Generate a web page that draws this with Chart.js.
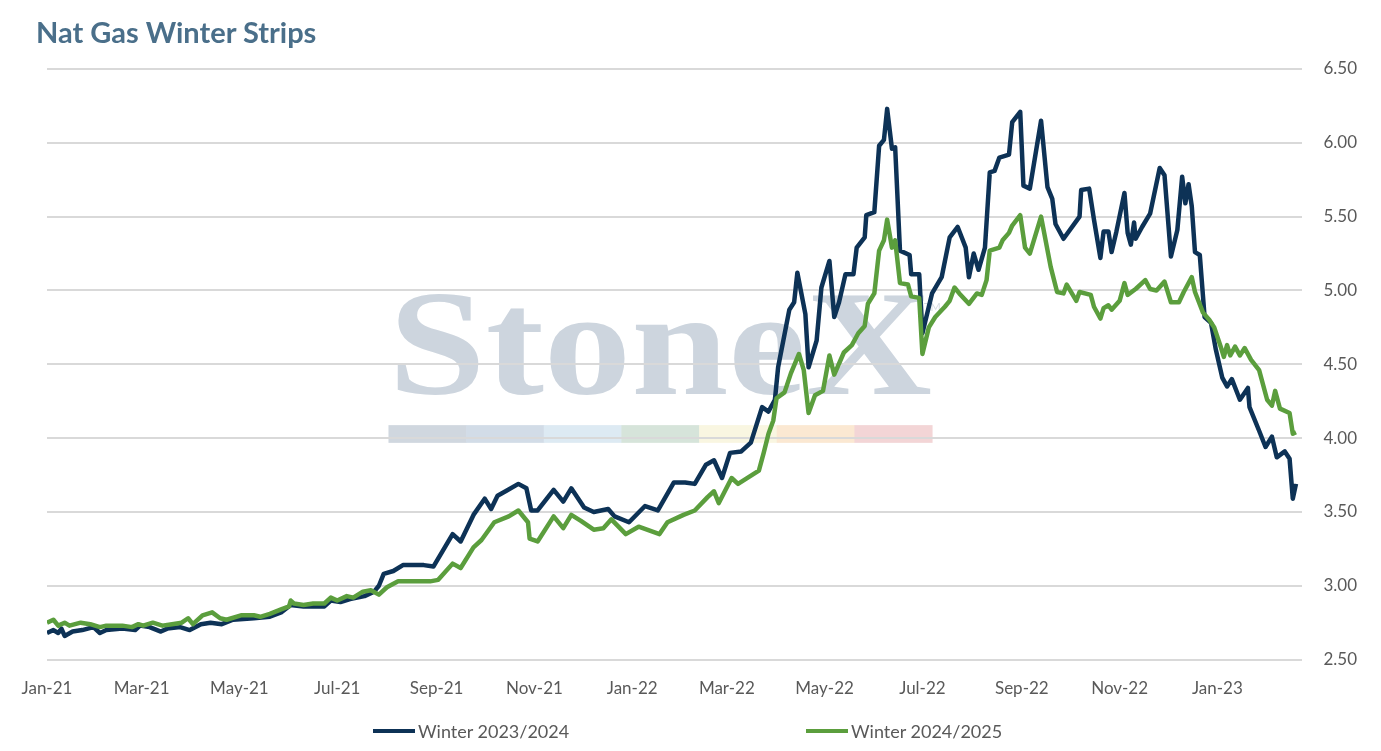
<!DOCTYPE html>
<html>
<head>
<meta charset="utf-8">
<title>Nat Gas Winter Strips</title>
<script src="https://cdn.jsdelivr.net/npm/chart.js@4.4.1/dist/chart.umd.min.js"></script>
<style>
  html, body { margin: 0; padding: 0; background: #fff; }
  #wrap { position: relative; width: 1381px; height: 751px; }
  #title {
    position: absolute; left: 36px; top: 14px; margin: 0;
    font: bold 29px Lato, sans-serif; color: #4a6f8a; line-height: normal;
  }
  #legend {
    position: absolute; top: 720px; left: 0; width: 1381px; height: 24px;
  }
  .item { position: absolute; display: flex; align-items: center;
    font: 18px Lato, sans-serif; color: #595959; }
  .item span.swatch { display: inline-block; width: 42px; height: 4px; margin-right: 3px; }
</style>
</head>
<body>
<div id="wrap">
  <canvas id="myChart"></canvas>
  <h1 id="title">Nat Gas Winter Strips</h1>
  <div id="legend"></div>
</div>
<script>
const ctx = document.getElementById("myChart");

// x values are days since 1 Jan 2021
const navyDays = [0, 4, 7, 9, 11, 16, 22, 29, 33, 37, 47, 55, 58, 64, 71, 75, 83, 89, 96, 102,
  109, 116, 129, 139, 146, 152, 160, 169, 173, 177, 183, 189, 198, 204, 207, 210, 216, 222, 235, 241,
  247, 253, 258, 266, 273, 277, 281, 286, 294, 299, 302, 306, 316, 322, 327, 335, 341, 350, 354, 363,
  373, 381, 391, 398, 404, 411, 416, 421, 426, 433, 439, 446, 450, 454, 456, 463, 466, 468, 473, 475,
  480, 483, 488, 491, 494, 498, 503, 505, 510, 511, 516, 519, 522, 524, 527, 529, 532, 538, 539, 544,
  546, 552, 558, 563, 568, 573, 575, 578, 581, 585, 588, 591, 594, 600, 602, 607, 609, 613, 620, 624,
  627, 629, 634, 644, 645, 650, 653, 657, 659, 662, 664, 667, 672, 674, 676, 678, 679, 683, 688, 694,
  697, 701, 705, 708, 710, 712, 714, 716, 719, 721, 722, 726, 729, 733, 736, 739, 744, 749, 750, 756,
  760, 764, 767, 772, 775, 777, 779];
const navyValues = [2.68, 2.70, 2.68, 2.71, 2.66, 2.69, 2.70, 2.72, 2.68, 2.70, 2.71, 2.70, 2.73, 2.72, 2.69, 2.71, 2.72, 2.70, 2.74, 2.75,
  2.74, 2.77, 2.78, 2.79, 2.82, 2.87, 2.86, 2.86, 2.86, 2.90, 2.89, 2.91, 2.93, 2.96, 3.00, 3.08, 3.10, 3.14, 3.14, 3.13,
  3.24, 3.35, 3.30, 3.48, 3.59, 3.52, 3.61, 3.64, 3.69, 3.66, 3.51, 3.51, 3.65, 3.57, 3.66, 3.53, 3.50, 3.52, 3.47, 3.43,
  3.54, 3.51, 3.70, 3.70, 3.69, 3.82, 3.85, 3.73, 3.90, 3.91, 3.97, 4.21, 4.18, 4.26, 4.48, 4.87, 4.92, 5.12, 4.84, 4.48,
  4.66, 5.02, 5.20, 4.82, 4.92, 5.11, 5.11, 5.29, 5.36, 5.51, 5.53, 5.98, 6.02, 6.23, 5.96, 5.97, 5.27, 5.24, 5.11, 5.11,
  4.71, 4.98, 5.09, 5.36, 5.43, 5.29, 5.09, 5.25, 5.14, 5.29, 5.80, 5.81, 5.90, 5.92, 6.14, 6.21, 5.71, 5.69, 6.15, 5.70,
  5.62, 5.45, 5.35, 5.50, 5.68, 5.69, 5.48, 5.22, 5.40, 5.40, 5.26, 5.40, 5.66, 5.39, 5.31, 5.46, 5.35, 5.43, 5.52, 5.83,
  5.78, 5.23, 5.41, 5.77, 5.59, 5.72, 5.57, 5.26, 5.24, 4.96, 4.82, 4.78, 4.60, 4.41, 4.35, 4.40, 4.26, 4.34, 4.21, 4.05,
  3.94, 4.01, 3.87, 3.91, 3.86, 3.59, 3.69];

const greenDays = [0, 4, 7, 11, 14, 21, 27, 33, 37, 47, 53, 57, 60, 66, 72, 78, 84, 88, 91, 97,
  103, 108, 112, 121, 129, 133, 139, 146, 151, 152, 154, 160, 166, 173, 177, 181, 187, 191, 197, 202,
  207, 212, 219, 239, 244, 253, 258, 266, 271, 279, 288, 294, 300, 301, 306, 316, 322, 327, 333, 341,
  347, 352, 361, 369, 382, 387, 397, 404, 412, 416, 419, 427, 431, 444, 447, 450, 453, 455, 460, 464,
  469, 472, 475, 479, 484, 488, 491, 497, 502, 506, 510, 512, 516, 519, 522, 524, 527, 529, 532, 537,
  539, 544, 546, 550, 554, 560, 563, 566, 569, 575, 580, 583, 586, 588, 594, 596, 600, 602, 607, 610,
  613, 620, 626, 630, 634, 636, 642, 644, 651, 653, 657, 659, 662, 664, 669, 672, 674, 679, 685, 688,
  692, 697, 701, 706, 709, 714, 716, 721, 725, 728, 732, 734, 736, 738, 741, 744, 747, 751, 756, 761,
  764, 766, 769, 775, 777, 779];
const greenValues = [2.75, 2.77, 2.73, 2.75, 2.73, 2.75, 2.74, 2.72, 2.73, 2.73, 2.72, 2.74, 2.73, 2.75, 2.73, 2.74, 2.75, 2.78, 2.74, 2.80,
  2.82, 2.78, 2.77, 2.80, 2.80, 2.79, 2.81, 2.84, 2.86, 2.90, 2.88, 2.87, 2.88, 2.88, 2.92, 2.90, 2.93, 2.92, 2.96, 2.97,
  2.94, 2.99, 3.03, 3.03, 3.04, 3.15, 3.12, 3.26, 3.31, 3.43, 3.47, 3.51, 3.43, 3.32, 3.30, 3.47, 3.39, 3.48, 3.44, 3.38,
  3.39, 3.45, 3.35, 3.40, 3.35, 3.43, 3.48, 3.51, 3.60, 3.64, 3.56, 3.73, 3.69, 3.78, 3.90, 4.03, 4.12, 4.27, 4.31, 4.44,
  4.57, 4.46, 4.17, 4.29, 4.32, 4.56, 4.43, 4.58, 4.63, 4.71, 4.76, 4.91, 4.98, 5.27, 5.34, 5.48, 5.29, 5.34, 5.05, 5.04,
  4.96, 4.95, 4.57, 4.75, 4.82, 4.89, 4.93, 5.02, 4.98, 4.91, 4.98, 4.97, 5.07, 5.27, 5.29, 5.34, 5.39, 5.44, 5.51, 5.29,
  5.25, 5.50, 5.16, 4.99, 4.98, 5.04, 4.93, 4.99, 4.97, 4.89, 4.81, 4.88, 4.90, 4.87, 4.93, 5.05, 4.97, 5.01, 5.07, 5.01,
  5.00, 5.06, 4.92, 4.92, 4.99, 5.09, 4.99, 4.85, 4.80, 4.75, 4.62, 4.55, 4.63, 4.56, 4.62, 4.56, 4.61, 4.53, 4.46, 4.26,
  4.22, 4.32, 4.20, 4.17, 4.03, 4.04];

const tickLabels = ['Jan-21', 'Mar-21', 'May-21', 'Jul-21', 'Sep-21', 'Nov-21', 'Jan-22',
  'Mar-22', 'May-22', 'Jul-22', 'Sep-22', 'Nov-22', 'Jan-23'];

const seriesNames = ['Winter 2023/2024', 'Winter 2024/2025'];
const seriesColors = ['#0d3256', '#5b9e3d'];

const monthNames = ['Jan','Feb','Mar','Apr','May','Jun','Jul','Aug','Sep','Oct','Nov','Dec'];
function labelToDay(label) {
    const [m, yy] = label.split('-');
    const t = Date.UTC(2000 + Number(yy), monthNames.indexOf(m), 1);
    return Math.round((t - Date.UTC(2021, 0, 1)) / 864e5);
}
const tickDays = tickLabels.map(labelToDay);

function toPoints(days, values) {
    return days.map((d, i) => ({ x: d, y: values[i] }));
}

// faint StoneX watermark behind the grid
const watermark = {
    id: 'watermark',
    beforeDraw: (chart) => {
        const { ctx, chartArea: { left, top, width, height } } = chart;
        const x0 = left + width * 0.272;
        const x1 = left + width * 0.705;
        ctx.save();
        ctx.font = 'bold 150px "Liberation Serif", serif';
        ctx.fillStyle = '#cdd5de';
        ctx.textBaseline = 'alphabetic';
        const w = ctx.measureText('StoneX').width;
        ctx.translate(x0, top + height * 0.551);
        ctx.scale((x1 - x0) / w, 1);
        ctx.fillText('StoneX', 0, 0);
        ctx.restore();

        ctx.save();
        ctx.font = '11px Lato, sans-serif';
        ctx.fillStyle = '#d5dbe2';
        ctx.fillText('TM', x1 - 8, top + height * 0.41);
        const bandColors = ['#d0d7df', '#d2dce7', '#ddeaf3', '#d6e4da', '#f9f6e1', '#fbe8d2', '#f3d5d6'];
        const segW = (x1 - x0) / bandColors.length;
        const by = top + height * 0.603;
        const bh = height * 0.03;
        bandColors.forEach((c, i) => {
            ctx.fillStyle = c;
            ctx.fillRect(x0 + i * segW, by, segW + 0.5, bh);
        });
        ctx.restore();
    }
};

const chart = new Chart(ctx, {
    type: 'line',
    data: {
        datasets: [
            {
                label: seriesNames[0],
                data: toPoints(navyDays, navyValues),
                borderColor: seriesColors[0],
                backgroundColor: seriesColors[0],
                borderWidth: 4.5,
                pointRadius: 0,
                tension: 0,
                borderJoinStyle: 'round',
                order: 1
            },
            {
                label: seriesNames[1],
                data: toPoints(greenDays, greenValues),
                borderColor: seriesColors[1],
                backgroundColor: seriesColors[1],
                borderWidth: 4.5,
                pointRadius: 0,
                tension: 0,
                borderJoinStyle: 'round',
                order: 0
            }
        ]
    },
    options: {
        animation: false,
        maintainAspectRatio: false,
        responsive: true,
        layout: {
            padding: { top: 69, left: 47, right: 3, bottom: 33 }
        },
        plugins: {
            legend: { display: false },
            title: { display: false },
            tooltip: { enabled: false }
        },
        scales: {
            x: {
                type: 'linear',
                min: 0,
                max: 783,
                afterBuildTicks: (axis) => {
                    axis.ticks = tickDays.map(v => ({ value: v }));
                },
                grid: { display: false, drawTicks: false },
                border: { display: false },
                ticks: {
                    autoSkip: false,
                    maxRotation: 0,
                    padding: 19,
                    color: '#595959',
                    font: { family: 'Lato', size: 17 },
                    callback: (value, index) => tickLabels[index]
                }
            },
            y: {
                position: 'right',
                min: 2.5,
                max: 6.5,
                grid: { color: '#d9d9d9', lineWidth: 2, drawTicks: false },
                border: { display: false },
                ticks: {
                    stepSize: 0.5,
                    padding: 21,
                    color: '#595959',
                    font: { family: 'Lato', size: 17 },
                    callback: (value) => Number(value).toFixed(2)
                }
            }
        }
    },
    plugins: [watermark]
});

// legend built from the datasets
const legendLeft = [373, 806];
const legendEl = document.getElementById('legend');
chart.data.datasets.forEach((ds, i) => {
    const item = document.createElement('div');
    item.className = 'item';
    item.style.left = legendLeft[i] + 'px';
    const sw = document.createElement('span');
    sw.className = 'swatch';
    sw.style.background = ds.borderColor;
    item.appendChild(sw);
    item.appendChild(document.createTextNode(ds.label));
    legendEl.appendChild(item);
});
</script>
</body>
</html>
